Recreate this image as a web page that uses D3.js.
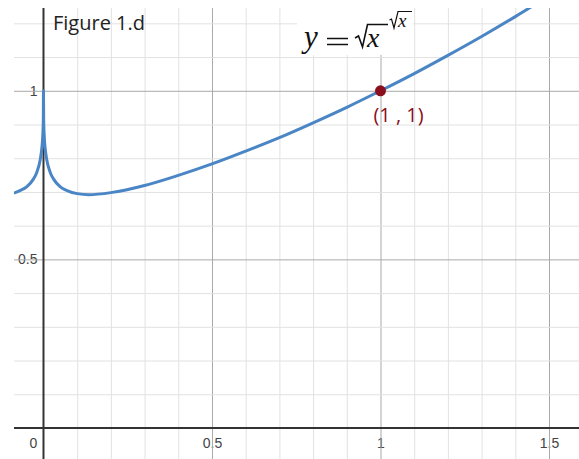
<!DOCTYPE html>
<html>
<head>
<meta charset="utf-8">
<script src="https://cdn.jsdelivr.net/npm/d3@7/dist/d3.min.js"></script>
<style>
  html, body { margin: 0; padding: 0; background: #fff; }
  svg { display: block; }
</style>
</head>
<body>
<svg id="chart" width="579" height="459"></svg>
<script>
// Curve samples of y = sqrt(x)^sqrt(x)
const curveX = [-0.09, -0.07, -0.05, -0.03, -0.02, -0.01, -0.005, -0.002, -0.0005, 0,
                0.0005, 0.002, 0.005, 0.01, 0.02, 0.03, 0.05, 0.07, 0.1, 0.135,
                0.2, 0.3, 0.4, 0.5, 0.6, 0.7, 0.8, 0.9, 1.0, 1.1, 1.2, 1.3, 1.4, 1.5];
const curveY = [0.696, 0.704, 0.715, 0.738, 0.758, 0.794, 0.829, 0.870, 0.918, 1.0,
                0.918, 0.870, 0.829, 0.794, 0.758, 0.738, 0.715, 0.704, 0.695, 0.692,
                0.698, 0.719, 0.749, 0.783, 0.821, 0.861, 0.905, 0.951, 1.0, 1.051,
                1.105, 1.161, 1.220, 1.282];

// Highlighted point and its label
const pointX = [1];
const pointY = [1];
const pointLabels = ["(1 , 1)"];

// Axis tick labels
const xTickValues = [0.5, 1, 1.5];
const xTickLabels = ["0.5", "1", "1.5"];
const yTickValues = [0.5, 1];
const yTickLabels = ["0.5", "1"];
const originLabel = "0";

const titleText = "Figure 1.d";

const svg = d3.select("#chart");
const W = 579, H = 459;
const padLeft = 14, padTop = 8;

const x = d3.scaleLinear().domain([-0.0875, 1.589]).range([padLeft, W]);
const y = d3.scaleLinear().domain([-0.092, 1.2455]).range([H, padTop]);

svg.append("rect").attr("width", W).attr("height", H).attr("fill", "#fff");

const plotG = svg.append("g");

// Tick labels (grid lines are drawn over them)
const labelFont = "'Liberation Sans', Arial, sans-serif";
const xLab = plotG.append("g")
  .attr("transform", `translate(0,${y(0)})`)
  .call(d3.axisBottom(x).tickValues(xTickValues)
    .tickFormat((d, i) => xTickLabels[i]).tickSize(0).tickPadding(10));
xLab.select(".domain").remove();
xLab.selectAll("text").attr("font-family", labelFont).attr("font-size", 14).attr("fill", "#444");

const yLab = plotG.append("g")
  .attr("transform", `translate(${x(0)},0)`)
  .call(d3.axisLeft(y).tickValues(yTickValues)
    .tickFormat((d, i) => yTickLabels[i]).tickSize(0).tickPadding(6));
yLab.select(".domain").remove();
yLab.selectAll("text").attr("font-family", labelFont).attr("font-size", 14).attr("fill", "#444");

plotG.append("text")
  .attr("x", x(0) - 10).attr("y", y(0) + 20)
  .attr("text-anchor", "middle")
  .attr("font-family", labelFont).attr("font-size", 14).attr("fill", "#444")
  .text(originLabel);

// Grid: minor every 0.1, major every 0.5
const isMajor = v => Math.abs(v * 2 - Math.round(v * 2)) < 1e-6;
const xGridVals = d3.range(0, 1.6, 0.1).map(v => +v.toFixed(1)).filter(v => v !== 0);
const yGridVals = d3.range(0, 1.3, 0.1).map(v => +v.toFixed(1)).filter(v => v !== 0);

const xGrid = plotG.append("g")
  .attr("transform", `translate(0,${H})`)
  .call(d3.axisBottom(x).tickValues(xGridVals).tickSize(-(H - padTop)).tickFormat(""));
xGrid.select(".domain").remove();
xGrid.selectAll(".tick line")
  .attr("stroke", d => isMajor(d) ? "#a9a9a9" : "#e2e2e2")
  .attr("stroke-width", 1);

const yGrid = plotG.append("g")
  .attr("transform", `translate(${padLeft},0)`)
  .call(d3.axisLeft(y).tickValues(yGridVals).tickSize(-(W - padLeft)).tickFormat(""));
yGrid.select(".domain").remove();
yGrid.selectAll(".tick line")
  .attr("stroke", d => isMajor(d) ? "#a9a9a9" : "#e2e2e2")
  .attr("stroke-width", 1);

// Axes through the origin
plotG.append("line")
  .attr("x1", padLeft).attr("x2", W).attr("y1", y(0)).attr("y2", y(0))
  .attr("stroke", "#333").attr("stroke-width", 2);
plotG.append("line")
  .attr("x1", x(0)).attr("x2", x(0)).attr("y1", padTop).attr("y2", H)
  .attr("stroke", "#333").attr("stroke-width", 2);

// Curve
svg.append("clipPath").attr("id", "plotClip")
  .append("rect").attr("x", padLeft).attr("y", padTop).attr("width", W - padLeft).attr("height", H - padTop);

const pts = curveX.map((v, i) => [v, curveY[i]]);
const line = d3.line().x(d => x(d[0])).y(d => y(d[1])).curve(d3.curveMonotoneX);
plotG.append("path")
  .attr("clip-path", "url(#plotClip)")
  .attr("d", line(pts))
  .attr("fill", "none")
  .attr("stroke", "#4a86c6")
  .attr("stroke-width", 3)
  .attr("stroke-linejoin", "round");

// Formula box: y = √x^√x
svg.append("rect").attr("x", 297).attr("y", padTop).attr("width", 116).attr("height", 47).attr("fill", "#fff");
const serif = "'Liberation Serif', 'Times New Roman', serif";
const eq = svg.append("g").attr("font-family", serif).attr("fill", "#111");
eq.append("text").attr("x", 304).attr("y", 47).attr("font-size", 31).attr("font-style", "italic").text("y");
// equals sign
eq.append("path").attr("d", "M327,38.5H348M327,44.5H348")
  .attr("stroke", "#111").attr("stroke-width", 1.6).attr("fill", "none");
// main radical
eq.append("path").attr("d", "M355,38 L358.5,36 L362.5,47 L367.5,24.5 L388,24.5")
  .attr("stroke", "#111").attr("stroke-width", 1.6).attr("fill", "none").attr("stroke-linejoin", "miter");
eq.append("text").attr("x", 367).attr("y", 47).attr("font-size", 28).attr("font-style", "italic").text("x");
// exponent radical
eq.append("path").attr("d", "M389.5,20 L391.5,19 L394,28 L398,11.5 L412,11.5")
  .attr("stroke", "#111").attr("stroke-width", 1.2).attr("fill", "none");
eq.append("text").attr("x", 398).attr("y", 27).attr("font-size", 19).attr("font-style", "italic").text("x");

// Title
svg.append("text")
  .attr("x", 53).attr("y", 30)
  .attr("font-family", "'Open Sans', 'Noto Sans', sans-serif")
  .attr("font-size", 20).attr("fill", "#222")
  .text(titleText);

// Highlighted point
const ptColor = "#8b0f1c";
svg.selectAll("circle.pt").data(pointX).join("circle")
  .attr("class", "pt")
  .attr("cx", (d, i) => x(d)).attr("cy", (d, i) => y(pointY[i]))
  .attr("r", 5.5).attr("fill", ptColor);
svg.selectAll("text.ptlab").data(pointX).join("text")
  .attr("class", "ptlab")
  .attr("x", (d, i) => x(d) + 18).attr("y", (d, i) => y(pointY[i]) + 31)
  .attr("text-anchor", "middle")
  .attr("font-family", "'Open Sans', 'Noto Sans', sans-serif")
  .attr("font-size", 20).attr("fill", ptColor)
  .text((d, i) => pointLabels[i]);
</script>
</body>
</html>
